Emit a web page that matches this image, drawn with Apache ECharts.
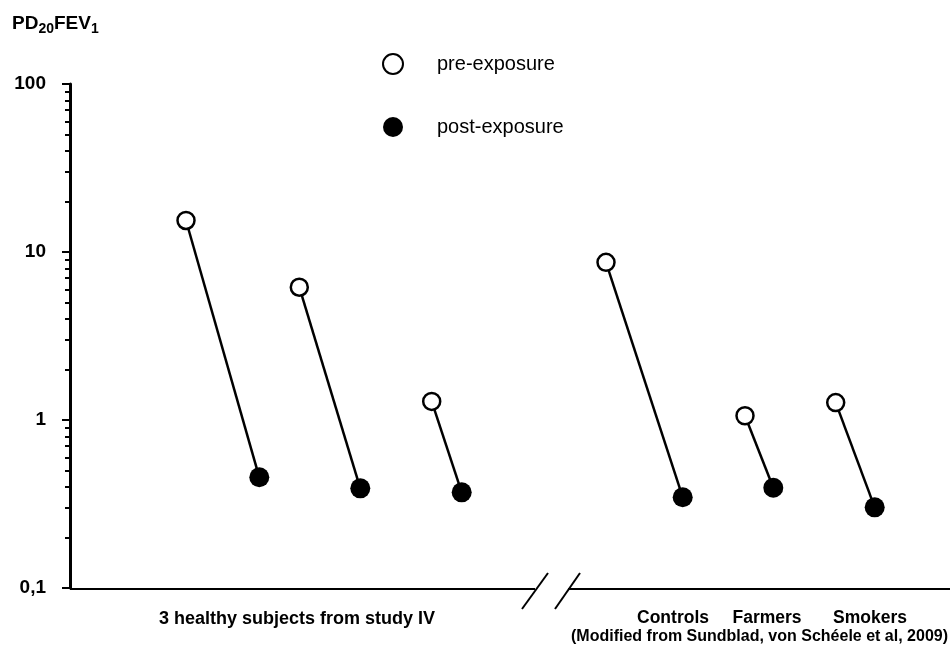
<!DOCTYPE html>
<html>
<head>
<meta charset="utf-8">
<script src="https://cdn.jsdelivr.net/npm/echarts@6/dist/echarts.min.js"></script>
<style>
  html, body { margin: 0; padding: 0; background: #fff; }
  #chart { width: 950px; height: 650px; }
</style>
</head>
<body>
<div id="chart"></div>
<script>
// PD20FEV1 before and after exposure, log scale
const subjects = ['Subject A', 'Subject B', 'Subject C', 'Controls', 'Farmers', 'Smokers'];
const preX = [11.6, 22.93, 36.17, 53.6, 67.5, 76.57];
const postX = [18.93, 29.03, 39.17, 61.27, 70.33, 80.47];
const preValues = [15.4, 6.17, 1.29, 8.68, 1.06, 1.27];
const postValues = [0.456, 0.392, 0.371, 0.347, 0.395, 0.302];

const majorTicks = [0.1, 1, 10, 100];
const minorTicks = [0.2, 0.3, 0.4, 0.5, 0.6, 0.7, 0.8, 0.9,
                    2, 3, 4, 5, 6, 7, 8, 9,
                    20, 30, 40, 50, 60, 70, 80, 90];
const tickLabels = ['0,1', '1', '10', '100'];
const groupLabels = ['3 healthy subjects from study IV', 'Controls', 'Farmers', 'Smokers'];
const sourceNote = '(Modified from Sundblad, von Schéele et al, 2009)';
const legendNames = ['pre-exposure', 'post-exposure'];

const FONT = 'Arial, "Liberation Sans", Helvetica, sans-serif';

const chart = echarts.init(document.getElementById('chart'), null, { renderer: 'canvas' });

// one connecting line per subject/group
const pairSeries = subjects.map((name, i) => ({
  name: name,
  type: 'line',
  xAxisIndex: 0,
  yAxisIndex: 0,
  data: [[preX[i], preValues[i]], [postX[i], postValues[i]]],
  symbol: 'none',
  lineStyle: { color: '#000', width: 2.5 },
  silent: true,
  z: 2
}));

const option = {
  animation: false,
  backgroundColor: '#fff',
  textStyle: { fontFamily: FONT },
  grid: { left: 70, right: 0, top: 84, bottom: 62, containLabel: false },
  xAxis: {
    type: 'value',
    min: 0,
    max: 88,
    axisLine: { show: false },
    axisTick: { show: false },
    axisLabel: { show: false },
    splitLine: { show: false }
  },
  yAxis: [
    {
      type: 'log',
      logBase: 10,
      min: 0.1,
      max: 100,
      axisLine: { show: true, onZero: false, lineStyle: { color: '#000', width: 3 } },
      axisTick: { show: true, customValues: majorTicks, length: 8, lineStyle: { color: '#000', width: 2 } },
      axisLabel: {
        customValues: majorTicks,
        margin: 24,
        color: '#000',
        fontSize: 19,
        fontWeight: 'bold',
        fontFamily: FONT,
        formatter: v => {
          const k = majorTicks.findIndex(t => Math.abs(t - v) < 1e-9);
          return k >= 0 ? tickLabels[k] : '';
        }
      },
      splitLine: { show: false }
    },
    {
      type: 'log',
      logBase: 10,
      min: 0.1,
      max: 100,
      position: 'left',
      axisLine: { show: false },
      axisTick: { show: true, customValues: minorTicks, length: 5, lineStyle: { color: '#000', width: 2 } },
      axisLabel: { show: false },
      splitLine: { show: false }
    }
  ],
  legend: {
    orient: 'vertical',
    left: 377,
    top: 48,
    itemWidth: 20,
    itemHeight: 20,
    itemGap: 42,
    data: legendNames,
    textStyle: { color: '#000', fontSize: 20, fontFamily: FONT, padding: [0, 0, 0, 29] },
    selectedMode: false
  },
  series: [
    ...pairSeries,
    {
      name: legendNames[0],
      type: 'scatter',
      data: preX.map((x, i) => [x, preValues[i]]),
      symbol: 'circle',
      symbolSize: 17,
      itemStyle: { color: '#fff', borderColor: '#000', borderWidth: 2.5, opacity: 1 },
      z: 4
    },
    {
      name: legendNames[1],
      type: 'scatter',
      data: postX.map((x, i) => [x, postValues[i]]),
      symbol: 'circle',
      symbolSize: 20,
      itemStyle: { color: '#000', borderColor: '#000', borderWidth: 0, opacity: 1 },
      z: 4
    }
  ],
  graphic: [
    // axis title with subscripts
    {
      type: 'text',
      left: 12,
      top: 12,
      style: {
        text: 'PD{s|20}FEV{s|1}',
        fill: '#000',
        font: 'bold 19px ' + FONT,
        lineHeight: 24,
        verticalAlign: 'top',
        rich: {
          s: { fontSize: 14, fontWeight: 'bold', fontFamily: FONT, verticalAlign: 'bottom', lineHeight: 14 }
        }
      }
    },
    // horizontal axis with a break
    { type: 'line', shape: { x1: 70, y1: 589, x2: 535, y2: 589 }, style: { stroke: '#000', lineWidth: 2 } },
    { type: 'line', shape: { x1: 568, y1: 589, x2: 950, y2: 589 }, style: { stroke: '#000', lineWidth: 2 } },
    { type: 'line', shape: { x1: 522, y1: 609, x2: 548, y2: 573 }, style: { stroke: '#000', lineWidth: 2 } },
    { type: 'line', shape: { x1: 555, y1: 609, x2: 580, y2: 573 }, style: { stroke: '#000', lineWidth: 2 } },
    // group labels
    { type: 'text', x: 297, y: 619, style: { text: groupLabels[0], fill: '#000', font: 'bold 18px ' + FONT, align: 'center', verticalAlign: 'middle' } },
    { type: 'text', x: 673, y: 618, style: { text: groupLabels[1], fill: '#000', font: 'bold 17.5px ' + FONT, align: 'center', verticalAlign: 'middle' } },
    { type: 'text', x: 767, y: 618, style: { text: groupLabels[2], fill: '#000', font: 'bold 17.5px ' + FONT, align: 'center', verticalAlign: 'middle' } },
    { type: 'text', x: 870, y: 618, style: { text: groupLabels[3], fill: '#000', font: 'bold 17.5px ' + FONT, align: 'center', verticalAlign: 'middle' } },
    { type: 'text', x: 948, y: 637, style: { text: sourceNote, fill: '#000', font: 'bold 16px ' + FONT, align: 'right', verticalAlign: 'middle' } }
  ]
};

chart.setOption(option);
</script>
</body>
</html>
